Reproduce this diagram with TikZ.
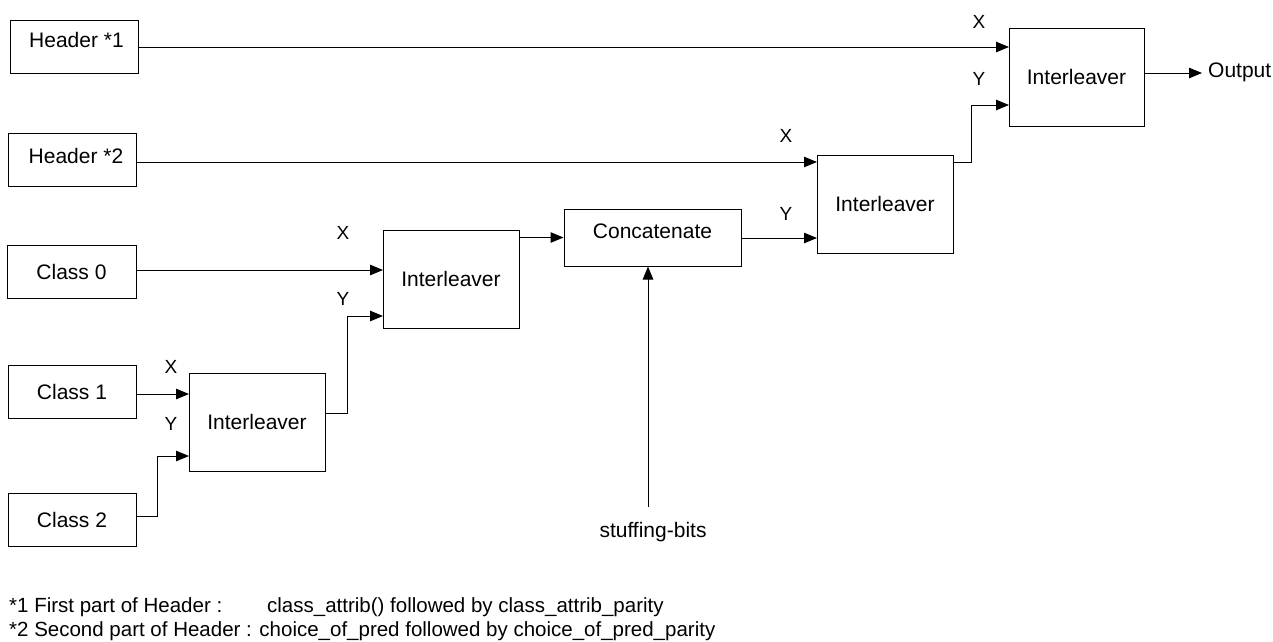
\documentclass[tikz,border=0pt]{standalone}
\usepackage{fontspec}
\setmainfont{Liberation Sans}
\usetikzlibrary{arrows.meta}
\begin{document}
\begin{tikzpicture}[x=1pt,y=-1pt,
  blk/.style={draw, line width=1pt, inner sep=0pt,
    font=\fontsize{21}{25}\selectfont, text height=15pt, text depth=0pt},
  src/.style={blk, minimum width=128pt, minimum height=53pt},
  ilv/.style={blk, minimum width=136pt, minimum height=98pt},
  arr/.style={line width=1pt, -{Triangle[length=13pt,width=10.5pt]}},
  port/.style={font=\fontsize{19}{22}\selectfont, inner sep=0pt,
    text height=13.6pt, text depth=0pt},
  txt/.style={font=\fontsize{21}{25}\selectfont, inner sep=0pt},
  note/.style={font=\fontsize{20.5}{25}\selectfont, inner sep=0pt, anchor=base west}]
\useasboundingbox (0,0) rectangle (1273,641);

% sources
\node[src, text depth=14pt] (h1) at (74,46.5) {\hspace*{5pt}Header *1};
\node[src, text depth=8pt]  (h2) at (72,159.5) {\hspace*{8pt}Header *2};
\node[src, minimum width=129pt] (c0) at (71.5,271.5) {Class 0};
\node[src] (c1) at (72,391.5) {Class 1};
\node[src] (c2) at (72,519.5) {Class 2};

% processing blocks
\node[ilv] (il1) at (257,422) {Interleaver};
\node[ilv] (il2) at (451,279) {Interleaver};
\node[blk, minimum width=177pt, minimum height=57pt, text depth=13pt] (cat) at (652.5,237.5) {Concatenate};
\node[ilv] (il3) at (885,204) {Interleaver};
\node[ilv, minimum width=135pt] (il4) at (1076.5,77) {Interleaver};

% input ports
\coordinate (il1x) at (189,394);  \coordinate (il1y) at (189,456);
\coordinate (il2x) at (383,270);  \coordinate (il2y) at (383,316);
\coordinate (il3x) at (817,162);  \coordinate (il3y) at (817,238);
\coordinate (il4x) at (1009,47);  \coordinate (il4y) at (1009,105);

% port labels
\node[port] (lx1) at (171,366.5) {X};
\node[port] (ly1) at (171,424)   {Y};
\node[port] (lx2) at (343,232.5) {X};
\node[port] (ly2) at (343,299)   {Y};
\node[port] (lx3) at (786,136)   {X};
\node[port] (ly3) at (786,213.5) {Y};
\node[port] (lx4) at (979,21.5)  {X};
\node[port] (ly4) at (979,79)    {Y};

% other texts
\node[txt, anchor=base] (sb) at (653,537) {stuffing-bits};
\node[txt, anchor=base west] (out) at (1208,77) {Output};
\coordinate (sbtop) at (648,507);

% connections
\draw[arr] (h1.east |- il4x) -- (il4x);
\draw[arr] (h2.east |- il3x) -- (il3x);
\draw[arr] (c0.east |- il2x) -- (il2x);
\draw[arr] (c1.east |- il1x) -- (il1x);
\draw[arr] ([yshift=3.5pt]c2.east) -- ++(21,0) |- (il1y);
\draw[arr] ([yshift=9pt]il1.east) -- ++(22,0) |- (il2y);
\draw[arr] (il2.east |- cat.west) -- (cat.west);
\draw[arr] (sbtop) -- (sbtop |- cat.south);
\draw[arr] (cat.east |- il3y) -- (il3y);
\draw[arr] (il3.east |- il3x) -- ++(18,0) |- (il4y);
\coordinate (o) at ([yshift=4pt]il4.east);
\draw[arr, shorten >=6pt] (o) -- (o -| out.west);

% footnotes
\node[note] (fn1) at (9,612) {\makebox[258pt][l]{*1 First part of Header :}class\_attrib() followed by class\_attrib\_parity};
\node[note] (fn2) at (9,636) {*2 Second part of Header : choice\_of\_pred followed by choice\_of\_pred\_parity};
\end{tikzpicture}
\end{document}
